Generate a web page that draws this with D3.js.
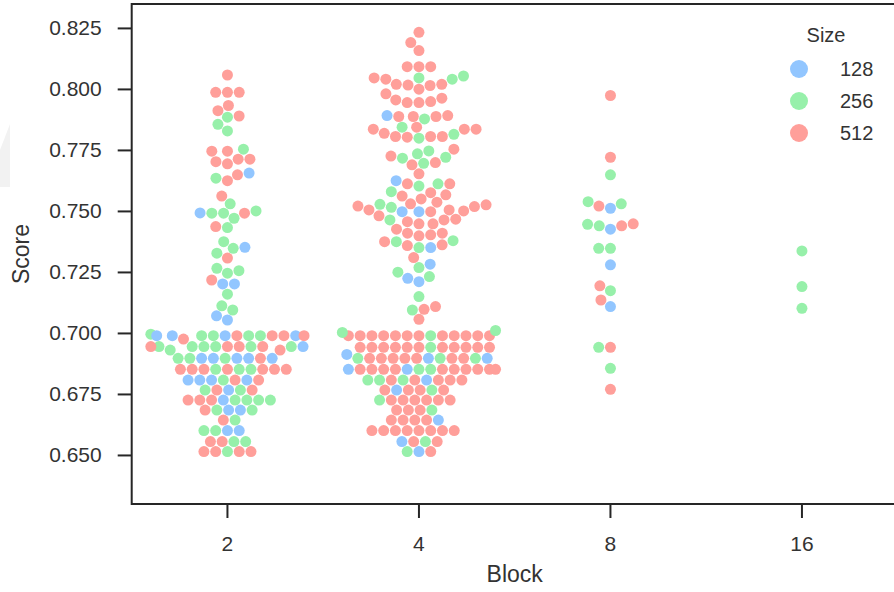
<!DOCTYPE html>
<html>
<head>
<meta charset="utf-8">
<script src="https://cdn.jsdelivr.net/npm/d3@7"></script>
<style>
  body { margin: 0; background: #fff; }
  svg { display: block; }
  text { font-family: "Liberation Sans", Arial, sans-serif; fill: #333; }
</style>
</head>
<body>
<div id="chart"></div>
<script>
// categories and hue levels
const blocks = ["2", "4", "8", "16"];
const sizeLevels = [128, 256, 512];
const sizeColors = ["#92C6FF", "#97F0AA", "#FF9F9A"];
const yTicks = [0.650, 0.675, 0.700, 0.725, 0.750, 0.775, 0.800, 0.825];

// Block 2 (score, size)
const block2Score = [
  0.8057, 0.7986, 0.7986, 0.7986, 0.7932, 0.7911, 0.7889, 0.7884, 0.7855, 0.7828,
  0.7753, 0.7745, 0.7745, 0.7712, 0.7712, 0.7702, 0.7693,
  0.7655, 0.7648, 0.7634, 0.7624, 0.7561, 0.7529,
  0.7500, 0.7492, 0.7491, 0.7491, 0.7491, 0.7470, 0.7436, 0.7432,
  0.7374, 0.7351, 0.7347, 0.7327, 0.7307, 0.7265, 0.7255, 0.7245,
  0.7217, 0.7201, 0.7201, 0.7159, 0.7111, 0.7094, 0.7070, 0.7053,
  0.6995, 0.6989, 0.6989, 0.6989, 0.6989, 0.6989, 0.6989, 0.6989, 0.6989, 0.6989, 0.6975, 0.6989, 0.6989, 0.6989,
  0.6944, 0.6930, 0.6944, 0.6944, 0.6944, 0.6944, 0.6944, 0.6944, 0.6944, 0.6944, 0.6930, 0.6944, 0.6944,
  0.6896, 0.6896, 0.6896, 0.6896, 0.6896, 0.6896, 0.6896, 0.6896, 0.6896,
  0.6851, 0.6851, 0.6851, 0.6851, 0.6851, 0.6851, 0.6851, 0.6851, 0.6851, 0.6851,
  0.6807, 0.6807, 0.6807, 0.6807, 0.6807, 0.6807, 0.6807,
  0.6766, 0.6766, 0.6766, 0.6766, 0.6766,
  0.6725, 0.6725, 0.6725, 0.6725, 0.6725, 0.6725, 0.6725, 0.6725,
  0.6684, 0.6684, 0.6684, 0.6684, 0.6684,
  0.6643, 0.6643,
  0.6600, 0.6600, 0.6600, 0.6600,
  0.6555, 0.6555, 0.6555, 0.6555,
  0.6514, 0.6514, 0.6514, 0.6514, 0.6514
];
const block2Size = [
  512, 512, 512, 512, 512, 512, 512, 256, 256, 256,
  256, 512, 512, 512, 512, 512, 512,
  128, 512, 256, 512, 512, 256,
  256, 128, 256, 256, 512, 256, 512, 256,
  256, 128, 256, 256, 512, 256, 256, 256,
  512, 128, 128, 256, 256, 256, 128, 128,
  256, 128, 512, 256, 256, 256, 256, 512, 128, 512, 512, 128, 128, 512,
  512, 512, 256, 512, 256, 256, 256, 512, 256, 256, 256, 128, 512,
  256, 128, 128, 128, 128, 512, 256, 128, 256,
  512, 256, 256, 256, 512, 512, 512, 512, 512, 512,
  256, 512, 128, 128, 128, 512, 128,
  128, 512, 256, 256, 512,
  128, 256, 512, 256, 512, 256, 512, 256,
  128, 256, 128, 512, 256,
  512, 256,
  128, 256, 128, 256,
  512, 256, 512, 256,
  256, 512, 512, 512, 512
];

// Block 4
const block4Score = [
  0.8232, 0.8190, 0.8157, 0.8091, 0.8091, 0.8091,
  0.8053, 0.8045, 0.8045, 0.8040, 0.8040,
  0.8019, 0.8019, 0.8016, 0.8014, 0.7999,
  0.7980, 0.7962, 0.7955, 0.7948, 0.7944, 0.7944,
  0.7891, 0.7891, 0.7887, 0.7887, 0.7887, 0.7877,
  0.7843, 0.7843,
  0.7835, 0.7835, 0.7835, 0.7818, 0.7814, 0.7805, 0.7805, 0.7805, 0.7802, 0.7798,
  0.7753, 0.7746, 0.7734, 0.7725, 0.7720, 0.7716,
  0.7698, 0.7695, 0.7689, 0.7652, 0.7624,
  0.7611, 0.7611, 0.7611, 0.7602,
  0.7579, 0.7575, 0.7566, 0.7561,
  0.7549, 0.7536, 0.7527, 0.7520,
  0.7529, 0.7525, 0.7518, 0.7515, 0.7504, 0.7504, 0.7500, 0.7497, 0.7497, 0.7497,
  0.7480, 0.7466, 0.7463, 0.7463, 0.7456, 0.7447, 0.7447,
  0.7425, 0.7409, 0.7409, 0.7402, 0.7398,
  0.7378, 0.7374, 0.7374, 0.7361, 0.7358, 0.7350, 0.7350,
  0.7309, 0.7282, 0.7268, 0.7249, 0.7231, 0.7224, 0.7210,
  0.7149, 0.7108, 0.7097, 0.7094, 0.7056,
  0.6989, 0.6989, 0.6989, 0.6989, 0.6989, 0.6989, 0.6989, 0.6989, 0.6989, 0.6989, 0.6989, 0.6989, 0.6989, 0.7002, 0.7010,
  0.6941, 0.6941, 0.6941, 0.6941, 0.6941, 0.6941, 0.6941, 0.6941, 0.6941, 0.6941, 0.6941, 0.6941,
  0.6896, 0.6896, 0.6896, 0.6896, 0.6896, 0.6896, 0.6896, 0.6896, 0.6896, 0.6896, 0.6896, 0.6896, 0.6912,
  0.6851, 0.6851, 0.6851, 0.6851, 0.6851, 0.6851, 0.6851, 0.6851, 0.6851, 0.6851, 0.6851, 0.6851, 0.6851, 0.6851,
  0.6807, 0.6807, 0.6807, 0.6807, 0.6807, 0.6807, 0.6807, 0.6807, 0.6807,
  0.6766, 0.6766, 0.6766, 0.6766, 0.6766, 0.6766,
  0.6725, 0.6725, 0.6725, 0.6725, 0.6725, 0.6725, 0.6725,
  0.6684, 0.6684, 0.6684, 0.6684,
  0.6643, 0.6643, 0.6643, 0.6643, 0.6643,
  0.6600, 0.6600, 0.6600, 0.6600, 0.6600, 0.6600, 0.6600, 0.6600,
  0.6555, 0.6555, 0.6555, 0.6555,
  0.6514, 0.6514, 0.6514
];
const block4Size = [
  512, 512, 512, 512, 512, 512,
  256, 256, 512, 512, 256,
  512, 512, 512, 512, 512,
  512, 512, 512, 512, 512, 512,
  512, 128, 512, 512, 512, 256,
  512, 256,
  512, 512, 512, 512, 256, 512, 512, 512, 512, 256,
  512, 256, 256, 512, 256, 256,
  512, 256, 512, 512, 128,
  512, 256, 512, 256,
  256, 512, 512, 512,
  512, 512, 256, 512,
  512, 512, 512, 256, 512, 512, 512, 128, 512, 128,
  512, 512, 512, 256, 512, 512, 512,
  512, 512, 512, 512, 512,
  256, 256, 512, 512, 512, 256, 128,
  512, 128, 256, 256, 256, 128, 128,
  256, 512, 512, 256, 512,
  512, 512, 256, 512, 512, 512, 512, 512, 512, 512, 512, 512, 512, 256, 256,
  512, 256, 512, 512, 512, 512, 512, 512, 512, 512, 512, 512,
  512, 128, 512, 256, 512, 512, 512, 512, 512, 256, 256, 128, 128,
  256, 256, 128, 512, 512, 512, 512, 512, 512, 512, 512, 512, 128, 512,
  512, 128, 256, 512, 512, 512, 256, 512, 256,
  512, 512, 256, 128, 512, 512,
  512, 512, 512, 512, 512, 512, 256,
  512, 512, 256, 512,
  512, 512, 512, 128, 512,
  512, 512, 512, 512, 512, 512, 512, 512,
  512, 256, 128, 512,
  128, 256, 512
];

// Block 8
const block8Score = [
  0.7973, 0.7720, 0.7648, 0.7538, 0.7529, 0.7520, 0.7511,
  0.7445, 0.7447, 0.7439, 0.7439, 0.7425, 0.7347, 0.7347, 0.7279,
  0.7193, 0.7173, 0.7135, 0.7108, 0.6941, 0.6941, 0.6855, 0.6769
];
const block8Size = [
  512, 512, 256, 256, 256, 512, 128,
  256, 512, 256, 512, 128, 256, 256, 128,
  512, 256, 512, 128, 512, 256, 256, 512
];

// Block 16
const block16Score = [0.7336, 0.7190, 0.7101];
const block16Size = [256, 256, 256];

const blockScores = [block2Score, block4Score, block8Score, block16Score];
const blockSizes = [block2Size, block4Size, block8Size, block16Size];

const W = 894, H = 592;
const margin = {left: 131.7, right: -3.7, top: 4, bottom: 88};
const dotR = 5.5;
const swarmD = 11.2;

const svg = d3.select("#chart").append("svg")
  .attr("width", W).attr("height", H);

// faint grey artefact at the left edge of the screenshot
svg.append("path")
  .attr("d", "M0,150 L10,124 L10,187 L0,187 Z")
  .attr("fill", "#f2f2f2");

const x = d3.scaleBand()
  .domain(blocks)
  .range([margin.left, W - margin.right]);

const y = d3.scaleLinear()
  .domain([0.6299, 0.8348])
  .range([H - margin.bottom, margin.top]);

const color = d3.scaleOrdinal().domain(sizeLevels).range(sizeColors);

// seaborn-like beeswarm: sort by value, place each point at the candidate closest to the midline
function beeswarm(pts, mid, d, half) {
  const sorted = pts.slice().sort((a, b) => a.u - b.u);
  const placed = [];
  sorted.forEach(p => {
    let neighbors = [];
    for (let j = placed.length - 1; j >= 0; j--) {
      if (p.u - placed[j].u < d) neighbors.unshift(placed[j]);
      else break;
    }
    let cands = [mid];
    let leftFirst = true;
    neighbors.forEach(n => {
      let dy = p.u - n.u;
      let dx = Math.sqrt(Math.max(d * d - dy * dy, 0)) * 1.05;
      if (leftFirst) cands.push(n.x - dx, n.x + dx);
      else cands.push(n.x + dx, n.x - dx);
      leftFirst = !leftFirst;
    });
    let order = cands.map((cx, i) => ({cx, i}))
      .sort((a, b) => (Math.abs(a.cx - mid) - Math.abs(b.cx - mid)) || (a.i - b.i));
    p.x = mid;
    for (let c of order) {
      let ok = neighbors.every(n => (n.x - c.cx) ** 2 + (n.u - p.u) ** 2 >= d * d - 1e-9);
      if (ok) { p.x = c.cx; break; }
    }
    placed.push(p);
  });
  // points that run past the category width are pushed back to its edge
  pts.forEach(p => {
    p.x = Math.max(mid - half, Math.min(mid + half, p.x));
  });
}

const plot = svg.append("g");

blocks.forEach((b, bi) => {
  let mid = x(b) + x.bandwidth() / 2;
  let pts = blockScores[bi].map((s, i) => ({score: s, size: blockSizes[bi][i], u: -y(s)}));
  beeswarm(pts, mid, swarmD, x.bandwidth() * 0.4);
  plot.selectAll(".dot-" + b)
    .data(pts)
    .join("circle")
    .attr("class", "dot-" + b)
    .attr("cx", d => d.x)
    .attr("cy", d => y(d.score))
    .attr("r", dotR)
    .attr("fill", d => color(d.size));
});

// frame
svg.append("rect")
  .attr("x", margin.left)
  .attr("y", margin.top)
  .attr("width", W - margin.right - margin.left)
  .attr("height", H - margin.bottom - margin.top)
  .attr("fill", "none")
  .attr("stroke", "#262626")
  .attr("stroke-width", 2);

// axes
const xAxis = svg.append("g")
  .attr("transform", `translate(0,${H - margin.bottom})`)
  .call(d3.axisBottom(x).tickSize(14).tickPadding(18));
const yAxis = svg.append("g")
  .attr("transform", `translate(${margin.left},0)`)
  .call(d3.axisLeft(y).tickValues(yTicks).tickFormat(d3.format(".3f")).tickSize(14).tickPadding(16));

[xAxis, yAxis].forEach(g => {
  g.select(".domain").remove();
  g.selectAll(".tick line").attr("stroke", "#262626").attr("stroke-width", 2);
  g.selectAll(".tick text")
    .attr("fill", "#333")
    .style("font-family", "'Liberation Sans', Arial, sans-serif")
    .style("font-size", "21px");
});

svg.append("text")
  .attr("x", (margin.left + W - margin.right) / 2)
  .attr("y", 582)
  .attr("text-anchor", "middle")
  .style("font-size", "23px")
  .text("Block");

svg.append("text")
  .attr("transform", `translate(28.5,${(margin.top + H - margin.bottom) / 2}) rotate(-90)`)
  .attr("text-anchor", "middle")
  .style("font-size", "23px")
  .text("Score");

// legend
const legend = svg.append("g");
legend.append("text")
  .attr("x", 826)
  .attr("y", 41.5)
  .attr("text-anchor", "middle")
  .style("font-size", "20px")
  .text("Size");
legend.selectAll(".lg-dot")
  .data(sizeLevels)
  .join("circle")
  .attr("class", "lg-dot")
  .attr("cx", 799)
  .attr("cy", (d, i) => 69 + i * 32)
  .attr("r", 9)
  .attr("fill", d => color(d));
legend.selectAll(".lg-text")
  .data(sizeLevels)
  .join("text")
  .attr("class", "lg-text")
  .attr("x", 840)
  .attr("y", (d, i) => 75.5 + i * 32)
  .style("font-size", "20px")
  .text(d => d);
</script>
</body>
</html>
